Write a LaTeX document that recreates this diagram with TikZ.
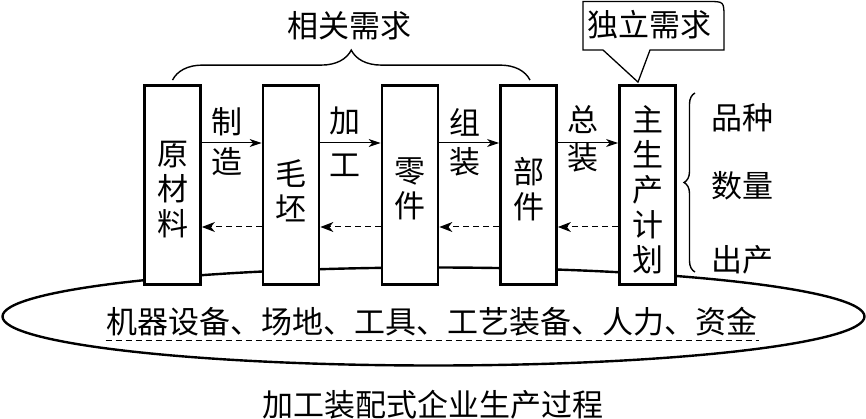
\documentclass[tikz,border=0pt]{standalone}
\usepackage{fontspec}
\newfontfamily\cjk{Noto Sans CJK SC}
\usetikzlibrary{arrows.meta,decorations.pathreplacing,calc}
\begin{document}
\begin{tikzpicture}[x=1pt,y=-1pt,
  every node/.style={font=\cjk\fontsize{31}{35}\selectfont, inner sep=0pt, outer sep=0pt},
  box/.style={draw, line width=2.8pt, fill=white, minimum width=56pt, minimum height=199pt, outer sep=1.4pt},
  vtext/.style={align=center},
  fwd/.style={line width=1pt, -{Stealth[length=12pt,width=8pt,inset=3.5pt]}},
  bwd/.style={line width=1pt, dash pattern=on 6pt off 4pt, -{Stealth[length=13pt,width=10pt,inset=4pt]}},
  bracestyle/.style={line width=1.4pt, decorate, decoration={brace, amplitude=#1}},
  callout/.style={line width=1.3pt, line join=miter},
  ell/.style={line width=2.4pt},
  dline/.style={line width=0.9pt, dash pattern=on 6pt off 4pt}
  ]
\useasboundingbox (0,0) rectangle (866,419);

% ellipse (resources)
\draw[ell] (433.5,316.5) ellipse [x radius=431, y radius=49];
\node (res) at (432,322) {机器设备、场地、工具、工艺装备、人力、资金};
\coordinate (dl) at (0,340);
\draw[dline] ([xshift=-1pt]res.west |- dl) -- ([xshift=1pt]res.east |- dl);

% boxes
\node[box] (b1) at (172.5,185) {};
\node[box] (b2) at (291,185) {};
\node[box] (b3) at (410,185) {};
\node[box] (b4) at (528.5,185) {};
\node[box] (b5) at (647.5,185) {};

\node[vtext] (t1) at (172.5,190) {原\\材\\料};
\node[vtext] (t2) at (291,191) {毛\\坯};
\node[vtext] (t3) at (410,189) {零\\件};
\node[vtext] (t4) at (528.5,189) {部\\件};
\node[vtext] (t5) at (647.5,190) {主\\生\\产\\计\\划};

% forward arrows
\draw[fwd] ([yshift=42pt]b1.east) -- ([yshift=42pt]b2.west);
\draw[fwd] ([yshift=42pt]b2.east) -- ([yshift=42pt]b3.west);
\draw[fwd] ([yshift=42pt]b3.east) -- ([yshift=42pt]b4.west);
\draw[fwd] ([yshift=42pt]b4.east) -- ([yshift=42pt]b5.west);

% backward dashed arrows
\draw[bwd] ([yshift=-42pt]b2.west) -- ([yshift=-42pt]b1.east);
\draw[bwd] ([yshift=-42pt]b3.west) -- ([yshift=-42pt]b2.east);
\draw[bwd] ([yshift=-42pt]b4.west) -- ([yshift=-42pt]b3.east);
\draw[bwd] ([yshift=-42pt]b5.west) -- ([yshift=-42pt]b4.east);

% arrow labels
\node (l1a) at (227,122) {制};
\node (l1b) at (227,162) {造};
\node (l2a) at (345,121) {加};
\node (l2b) at (345,165) {工};
\node (l3a) at (465,122) {组};
\node (l3b) at (465,162) {装};
\node (l4a) at (583,120) {总};
\node (l4b) at (583,158) {装};

% top brace
\draw[bracestyle=30pt] ([yshift=4pt]b1.north) -- ([xshift=1.5pt,yshift=4pt]b4.north);
\node (rel) at (349.5,26) {相关需求};

% callout
\node (indep) at (649,25) {独立需求};
\coordinate (ptip) at ([xshift=-9.5pt,yshift=2pt]b5.north);
\draw[callout] (603,50) -- (583,50) -- (583,1.5) -- (708,1.5)
  .. controls (724,1.5) .. (724,17.5) -- (724,50) -- (650,50) -- (ptip) -- cycle;

% right brace and labels
\draw[bracestyle=11pt] (695,272) -- (695,93);
\node (r1) at (742,118) {品种};
\node (r2) at (742,186) {数量};
\node (r3) at (742,260) {出产};

% caption
\node (cap) at (433,405) {加工装配式企业生产过程};
\end{tikzpicture}
\end{document}
